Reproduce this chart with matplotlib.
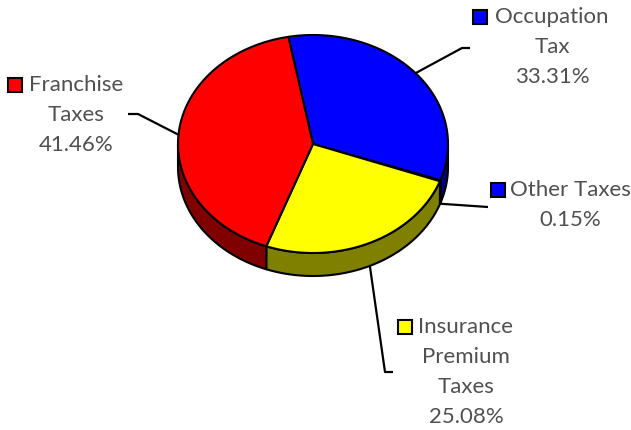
import numpy as np
import matplotlib.pyplot as plt
from matplotlib.patches import Polygon, Rectangle

# tax revenue shares, clockwise from the top
categories = ["Occupation\nTax", "Other Taxes", "Insurance\nPremium\nTaxes", "Franchise\nTaxes"]
shares = [33.31, 0.15, 25.08, 41.46]
top_colors = ["#0000ff", "#0000ff", "#ffff00", "#ff0000"]
side_colors = ["#000080", "#000080", "#808000", "#800000"]

# layout (pixels, y down)
W, H = 631, 430
cx, cy, rx, ry, depth = 313, 144, 135, 109, 23
start_angle = 100.5
# label block: centre x of text lines, y of first line, marker left x
label_pos = [(552, 17, 473), (570, 190, 491), (466, 327, 398), (76, 85, 8)]
# leader elbow and end points
leader_pts = [[(462, 48), (470, 48)], [(488, 207)], [(385, 372), (393, 372)],
              [(138, 114), (128, 114)]]
line_h = 30
text_color = "#505050"

fig = plt.figure(figsize=(W / 100, H / 100), dpi=100)
ax = fig.add_axes([0, 0, 1, 1])
ax.set_xlim(0, W)
ax.set_ylim(H, 0)
ax.axis("off")


def rim(a0, a1, n=80, dy=0.0):
    t = np.radians(np.linspace(a0, a1, n))
    return np.column_stack([cx + rx * np.cos(t), cy - ry * np.sin(t) + dy])


fracs = np.array(shares) / sum(shares)
bounds = start_angle - np.concatenate([[0], np.cumsum(fracs) * 360])

# side walls (only the front half of the rim is visible)
for i in range(len(shares)):
    hi, lo = bounds[i], bounds[i + 1]
    for k in (-1, 0, 1):
        a = max(lo, -180 + 360 * k)
        b = min(hi, 360 * k)
        if b <= a:
            continue
        upper = rim(b, a)
        lower = rim(a, b, dy=depth)
        ax.add_patch(Polygon(np.vstack([upper, lower]), closed=True,
                             facecolor=side_colors[i], edgecolor="black",
                             lw=1.5, joinstyle="round", zorder=1))

# top faces
for i in range(len(shares)):
    pts = np.vstack([[cx, cy], rim(bounds[i], bounds[i + 1])])
    ax.add_patch(Polygon(pts, closed=True, facecolor=top_colors[i],
                         edgecolor="black", lw=1.5, joinstyle="round", zorder=2))

# leader lines and labels
for i, name in enumerate(categories):
    mid = (bounds[i] + bounds[i + 1]) / 2
    t = np.radians(mid)
    ax_pt = (cx + rx * np.cos(t), cy - ry * np.sin(t) + (depth if np.sin(t) < -0.2 else 0))
    path = np.array([ax_pt] + leader_pts[i])
    ax.plot(path[:, 0], path[:, 1], color="black", lw=1.6, zorder=0,
            solid_capstyle="butt")

    tx, ty, mx = label_pos[i]
    lines = name.split("\n") + [f"{shares[i]:.2f}%"]
    for j, s in enumerate(lines):
        ax.text(tx, ty + j * line_h, s, ha="center", va="center",
                fontsize=16, color=text_color, family="Lato", weight="normal")
    ax.add_patch(Rectangle((mx, ty - 7), 14, 14, facecolor=top_colors[i],
                           edgecolor="black", lw=1.5, zorder=3))

fig.savefig("out.png", dpi=100)
